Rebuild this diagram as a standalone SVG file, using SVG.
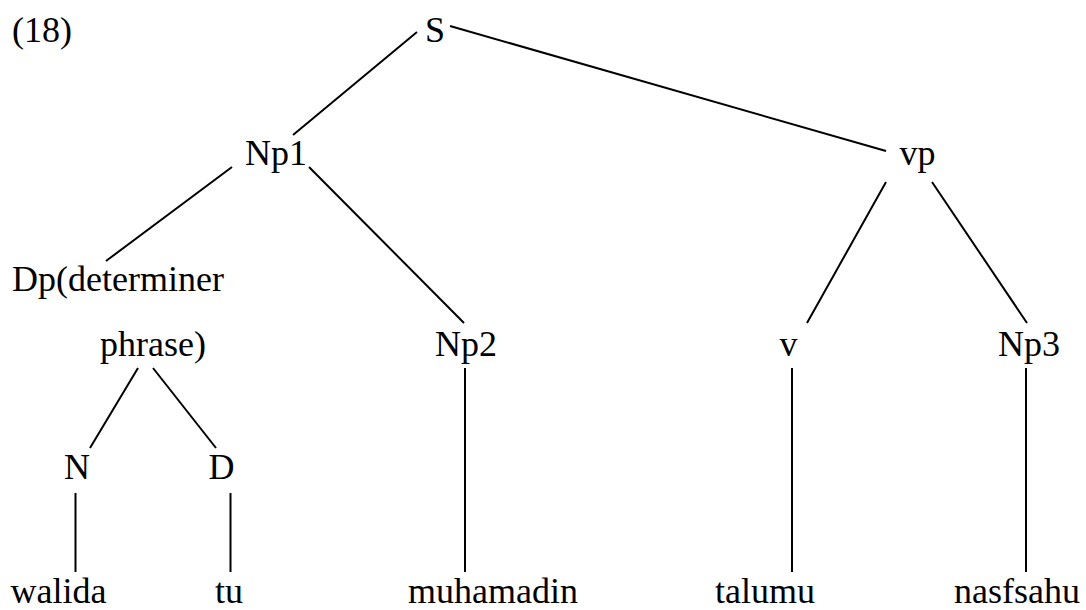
<svg xmlns="http://www.w3.org/2000/svg" width="1086" height="610" viewBox="0 0 1086 610">
  <style>
    text { font-family: 'Liberation Serif', 'DejaVu Serif', serif; font-size: 36px; fill: #000; }
    .c { text-anchor: middle; }
    .edge { stroke: #000; stroke-width: 2; fill: none; stroke-linecap: butt; }
  </style>
  <rect width="1086" height="610" fill="#fff"/>

  <!-- example number -->
  <g id="label-18"><text x="12" y="42">(18)</text></g>

  <!-- tree edges -->
  <g id="connectors">
    <line class="edge" x1="417" y1="32" x2="293" y2="135"/>
    <line class="edge" x1="450" y1="26" x2="886" y2="151"/>
    <line class="edge" x1="232" y1="167" x2="106" y2="261"/>
    <line class="edge" x1="309" y1="167" x2="464" y2="323"/>
    <line class="edge" x1="886" y1="182" x2="807" y2="323"/>
    <line class="edge" x1="932" y1="182" x2="1027" y2="323"/>
    <line class="edge" x1="138" y1="368" x2="90" y2="448"/>
    <line class="edge" x1="153" y1="368" x2="216" y2="448"/>
    <line class="edge" x1="465" y1="368" x2="465" y2="572"/>
    <line class="edge" x1="792" y1="368" x2="792" y2="572"/>
    <line class="edge" x1="1026" y1="368" x2="1026" y2="572"/>
    <line class="edge" x1="75.5" y1="493" x2="75.5" y2="572"/>
    <line class="edge" x1="230.5" y1="493" x2="230.5" y2="572"/>
  </g>

  <!-- phrase nodes -->
  <g id="node-S"><text class="c" x="435" y="42">S</text></g>
  <g id="node-Np1"><text class="c" x="276" y="165">Np1</text></g>
  <g id="node-vp"><text class="c" x="917.5" y="165">vp</text></g>
  <g id="node-Dp">
    <text x="12" y="291">Dp(determiner</text>
    <text class="c" x="153" y="356">phrase)</text>
  </g>
  <g id="node-Np2"><text class="c" x="466" y="356">Np2</text></g>
  <g id="node-v"><text class="c" x="788.5" y="356">v</text></g>
  <g id="node-Np3"><text class="c" x="1029" y="356">Np3</text></g>
  <g id="node-N"><text class="c" x="77" y="479">N</text></g>
  <g id="node-D"><text class="c" x="221.5" y="479">D</text></g>

  <!-- terminal words -->
  <g id="word-walida"><text class="c" x="58.5" y="603">walida</text></g>
  <g id="word-tu"><text class="c" x="229" y="603">tu</text></g>
  <g id="word-muhamadin"><text class="c" x="493" y="603">muhamadin</text></g>
  <g id="word-talumu"><text class="c" x="765" y="603">talumu</text></g>
  <g id="word-nasfsahu"><text class="c" x="1017" y="603">nasfsahu</text></g>
</svg>
